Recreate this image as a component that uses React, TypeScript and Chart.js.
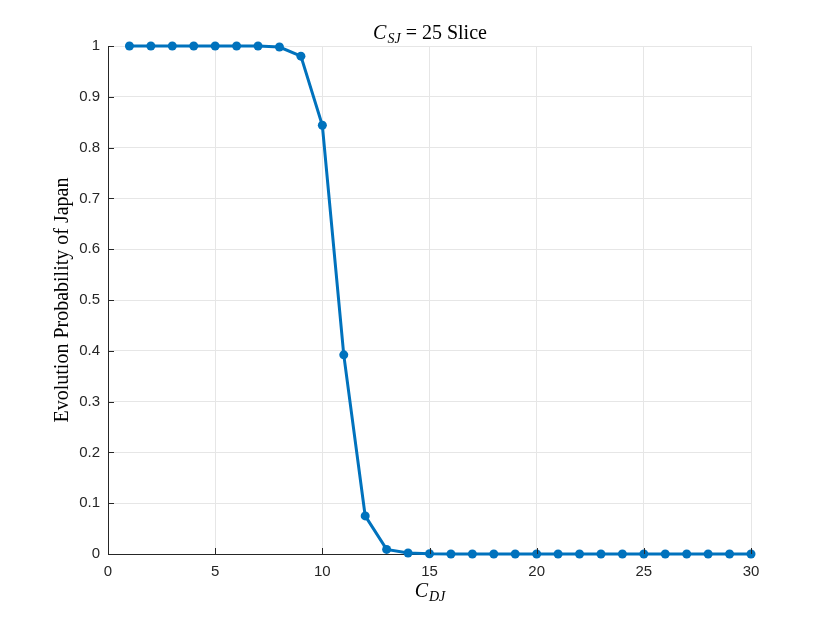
import React, { useEffect, useRef } from "react";
import { Chart, registerables } from "chart.js";

Chart.register(...registerables);

const xValues = [1, 2, 3, 4, 5, 6, 7, 8, 9, 10, 11, 12, 13, 14, 15, 16, 17, 18, 19, 20, 21, 22, 23, 24, 25, 26, 27, 28, 29, 30];
const probValues = [1, 1, 1, 1, 1, 1, 1, 0.998, 0.98, 0.844, 0.392, 0.075, 0.009, 0.002, 0.0005, 0, 0, 0, 0, 0, 0, 0, 0, 0, 0, 0, 0, 0, 0, 0];
const xTicks = [0, 5, 10, 15, 20, 25, 30];
const yTicks = [0, 0.1, 0.2, 0.3, 0.4, 0.5, 0.6, 0.7, 0.8, 0.9, 1];
const titleParts = { main: "C", sub: "SJ", rest: " = 25 Slice" };
const xLabelParts = { main: "C", sub: "DJ" };
const yLabel = "Evolution Probability of Japan";

const LINE = "#0072BD";
const AXIS = "#262626";
const SERIF = '"Liberation Serif", "DejaVu Serif", serif';
const SANS = '"Liberation Sans", Arial, sans-serif';

function drawSubText(ctx: CanvasRenderingContext2D, cx: number, baseline: number, main: string, sub: string, rest: string) {
  const fMain = `italic 20px ${SERIF}`;
  const fSub = `italic 14px ${SERIF}`;
  const fRest = `20px ${SERIF}`;
  ctx.font = fMain; const w1 = ctx.measureText(main).width;
  ctx.font = fSub; const w2 = ctx.measureText(sub).width;
  ctx.font = fRest; const w3 = rest ? ctx.measureText(rest).width : 0;
  let x = cx - (w1 + w2 + w3) / 2;
  ctx.textAlign = "left";
  ctx.textBaseline = "alphabetic";
  ctx.fillStyle = "#000";
  ctx.font = fMain; ctx.fillText(main, x, baseline); x += w1;
  ctx.font = fSub; ctx.fillText(sub, x + 1, baseline + 4); x += w2 + 1;
  if (rest) { ctx.font = fRest; ctx.fillText(rest, x, baseline); }
}

const decorPlugin = {
  id: "decor",
  afterDraw(chart: any) {
    const ctx = chart.ctx as CanvasRenderingContext2D;
    const area = chart.chartArea;
    const xs = chart.scales.x;
    const ys = chart.scales.y;
    ctx.save();
    ctx.strokeStyle = AXIS;
    ctx.lineWidth = 1;
    ctx.beginPath();
    for (const t of xTicks) {
      const px = Math.round(xs.getPixelForValue(t)) + 0.5;
      ctx.moveTo(px, area.bottom);
      ctx.lineTo(px, area.bottom - 6);
    }
    for (const t of yTicks) {
      const py = Math.round(ys.getPixelForValue(t)) + 0.5;
      ctx.moveTo(area.left, py);
      ctx.lineTo(area.left + 6, py);
    }
    ctx.stroke();
    const cx = (area.left + area.right) / 2;
    drawSubText(ctx, cx, 39, titleParts.main, titleParts.sub, titleParts.rest);
    drawSubText(ctx, cx, 597, xLabelParts.main, xLabelParts.sub, "");
    ctx.translate(68, (area.top + area.bottom) / 2);
    ctx.rotate(-Math.PI / 2);
    ctx.font = `20px ${SERIF}`;
    ctx.textAlign = "center";
    ctx.textBaseline = "alphabetic";
    ctx.fillStyle = "#000";
    ctx.fillText(yLabel, 0, 0);
    ctx.restore();
  },
};

export default function App() {
  const ref = useRef<HTMLCanvasElement | null>(null);
  useEffect(() => {
    document.body.style.margin = "0";
    const canvas = ref.current!;
    const chart = new Chart(canvas, {
      type: "line",
      data: {
        datasets: [
          {
            data: xValues.map((x, i) => ({ x, y: probValues[i] })),
            borderColor: LINE,
            backgroundColor: LINE,
            borderWidth: 3,
            pointRadius: 4.5,
            pointBackgroundColor: LINE,
            pointBorderColor: LINE,
            pointBorderWidth: 0,
            tension: 0,
            clip: false as any,
          },
        ],
      },
      options: {
        animation: false,
        responsive: false,
        maintainAspectRatio: false,
        layout: { padding: { left: 0, right: 79, top: 46, bottom: 0 } },
        plugins: { legend: { display: false }, tooltip: { enabled: false }, title: { display: false } },
        scales: {
          x: {
            type: "linear",
            min: 0,
            max: 30,
            afterFit: (s: any) => { s.height = 69; },
            afterBuildTicks: (s: any) => { s.ticks = xTicks.map((v) => ({ value: v })); },
            ticks: { color: AXIS, font: { family: SANS, size: 15 }, padding: 9, maxRotation: 0 },
            grid: { color: "#e6e6e6", drawTicks: false, lineWidth: 1 },
            border: { display: true, color: AXIS, width: 1 },
          },
          y: {
            type: "linear",
            min: 0,
            max: 1,
            afterFit: (s: any) => { s.width = 108; },
            afterBuildTicks: (s: any) => { s.ticks = yTicks.map((v) => ({ value: v })); },
            ticks: { color: AXIS, font: { family: SANS, size: 15 }, padding: 8, callback: (v: any) => String(Math.round(v * 10) / 10) },
            grid: { color: "#e6e6e6", drawTicks: false, lineWidth: 1 },
            border: { display: true, color: AXIS, width: 1 },
          },
        },
      },
      plugins: [decorPlugin],
    });
    return () => chart.destroy();
  }, []);
  return (
    <div style={{ position: "absolute", left: 0, top: 0, width: 830, height: 623, background: "#fff" }}>
      <canvas ref={ref} width={830} height={623} style={{ width: 830, height: 623 }} />
    </div>
  );
}
